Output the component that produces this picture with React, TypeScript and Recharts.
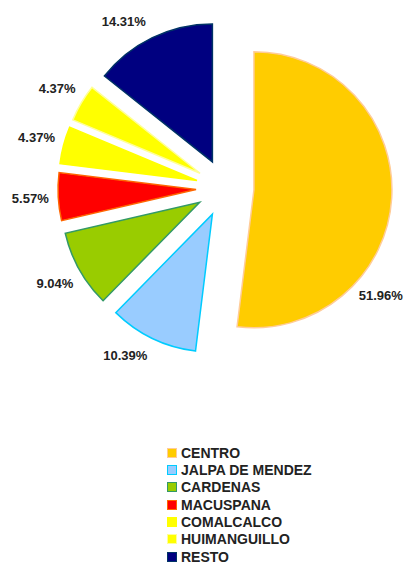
import React from 'react';
import { PieChart, Pie, Cell, Sector, Legend } from 'recharts';

// municipalities and their share (%)
const names = ['CENTRO', 'JALPA DE MENDEZ', 'CARDENAS', 'MACUSPANA', 'COMALCALCO', 'HUIMANGUILLO', 'RESTO'];
const shares = [51.96, 10.39, 9.04, 5.57, 4.37, 4.37, 14.31];
const fills = ['#FFCC00', '#99CCFF', '#99CC00', '#FF0000', '#FFFF00', '#FFFF00', '#000080'];
const strokes = ['#FFCC99', '#00CCFF', '#339966', '#FF6600', '#FFFF00', '#FFFF99', '#003366'];

const data = names.map((name, i) => ({ name, value: shares[i] }));

const RAD = Math.PI / 180;
const EXPLODE = 29;
const FONT = '"Liberation Sans", Arial, sans-serif';
// small angle tweaks so labels sit where the original put them
const LABEL_NUDGE = [-31, -5, 0, 0, 0, 0, 5.5];

// push each slice out along its bisector
const ExplodedSlice = (props: any) => {
  const { cx, cy, midAngle } = props;
  const dx = EXPLODE * Math.cos(-midAngle * RAD);
  const dy = EXPLODE * Math.sin(-midAngle * RAD);
  return <Sector {...props} cx={cx + dx} cy={cy + dy} />;
};

const renderLabel = (props: any) => {
  const { cx, cy, midAngle, value, index } = props;
  const angle = midAngle + (LABEL_NUDGE[index] || 0);
  const r = index === 0 ? 189 : 195;
  const x = cx + r * Math.cos(-angle * RAD);
  const y = cy + r * Math.sin(-angle * RAD);
  return (
    <text
      x={x}
      y={y}
      textAnchor="middle"
      dominantBaseline="central"
      fill="#222"
      fontFamily={FONT}
      fontWeight="bold"
      fontSize={13}
    >
      {`${value.toFixed(2)}%`}
    </text>
  );
};

const renderLegend = () => (
  <div style={{ fontFamily: FONT, fontWeight: 'bold', fontSize: 14, color: '#222' }}>
    {names.map((name, i) => (
      <div key={name} style={{ display: 'flex', alignItems: 'center', height: 17.33 }}>
        <span
          style={{
            display: 'inline-block',
            width: 8,
            height: 8,
            background: fills[i],
            border: `1.5px solid ${strokes[i]}`,
            marginRight: 4,
          }}
        />
        <span>{name}</span>
      </div>
    ))}
  </div>
);

export default function App() {
  return (
    <div style={{ position: 'absolute', left: 0, top: 0, background: '#fff' }}>
      <PieChart width={407} height={566} margin={{ top: 0, right: 0, bottom: 0, left: 0 }}>
        <Pie
          data={data}
          dataKey="value"
          nameKey="name"
          cx={225}
          cy={188}
          outerRadius={138}
          startAngle={90}
          endAngle={-270}
          shape={ExplodedSlice}
          label={renderLabel}
          labelLine={false}
          strokeWidth={1.5}
          isAnimationActive={false}
        >
          {data.map((d, i) => (
            <Cell key={d.name} fill={fills[i]} stroke={strokes[i]} />
          ))}
        </Pie>
        <Legend
          content={renderLegend}
          wrapperStyle={{ position: 'absolute', left: 167, top: 444, width: 220 }}
        />
      </PieChart>
    </div>
  );
}
